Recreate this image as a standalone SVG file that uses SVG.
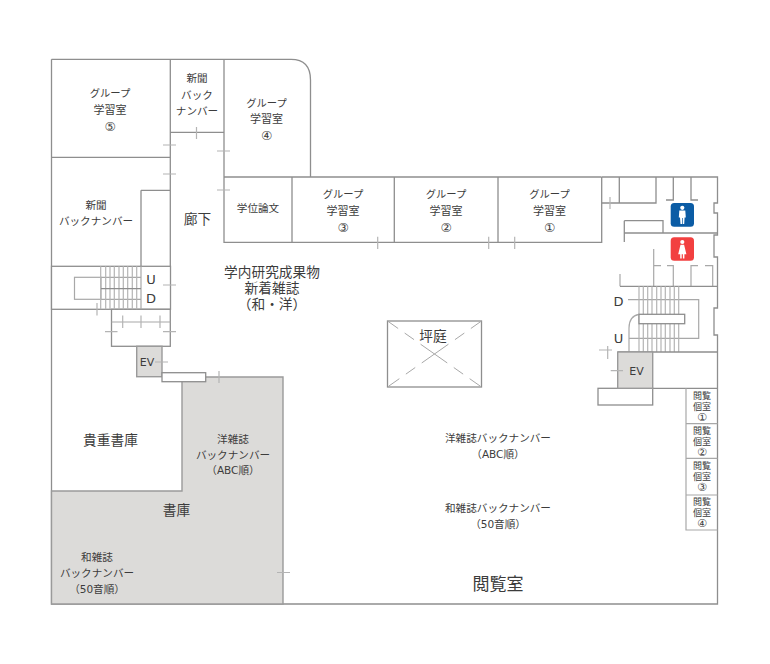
<svg xmlns="http://www.w3.org/2000/svg" width="770" height="664" viewBox="0 0 770 664">
<style>
text{font-family:"Noto Sans CJK JP","Noto Sans",sans-serif;fill:#3c3c3c;text-anchor:middle}
.s{font-size:10.6px}.t{font-size:11px}.m{font-size:13.7px}.v{font-size:9px}.l{font-size:17px}
.k{font-size:10.3px}
.n1{font-family:"DejaVu Sans",sans-serif;font-size:12.5px}
.n2{font-family:"DejaVu Sans",sans-serif;font-size:11px}
.a{font-family:"DejaVu Sans",sans-serif;font-size:10.5px}
.e{font-family:"DejaVu Sans",sans-serif;font-size:11px}.u{font-family:"DejaVu Sans",sans-serif;font-size:13px}
.w{fill:none;stroke:#8e8e8e;stroke-width:1.3}
.r{fill:#fff;stroke:#8e8e8e;stroke-width:1.3}
.g{fill:#dcdbd9;stroke:#9a9a9a;stroke-width:1.4}
.d{fill:none;stroke:#b4b4b4;stroke-width:1.2}
.n{fill:none;stroke:#a8a8a8;stroke-width:1.2}
.x{fill:none;stroke:#a8a8a8;stroke-width:1;stroke-dasharray:13 8 11.4 8 32.6 8 11.4 8 13}
</style>
<g id="connectors">
<path class="w" d="M51.5 59.3V604H717.5V388M51.5 59.3H291Q310.5 59.3 310.5 80V177M224 59.3V177"/>
<path class="w" d="M170.3 59.3V266M170.3 132.3H224M51.5 157.3H170.3M141 190.3H170.3M141 190.3V266"/>
<path class="w" d="M224 177H601.7M602 177H717.5V203H714V213H717.5V233M717.5 233V235H714V257H717.5V308H714V335H717.5V388"/>
</g>
<g id="storage"><path class="g" d="M182 377H283V604H51.5V491H182Z"/></g>
<g id="stairs-west">
<rect class="r" x="51.5" y="266.3" width="119" height="43"/>
<rect class="r" x="111.5" y="309.3" width="58.8" height="37"/>
<path class="n" d="M111.5 322H170.3M141 266.3V309.3"/>
<rect class="n" x="74.5" y="277.3" width="26.5" height="22"/>
<path class="n" d="M101 277.3H141M101 299.3H141"/>
<path class="d" d="M100.7 266.3V309.3M105.7 266.3V309.3M110 266.3V309.3M114.3 266.3V309.3M119 266.3V309.3M123.3 266.3V309.3M127.7 266.3V309.3M132.3 266.3V309.3M136.7 266.3V309.3"/>
<path class="w" d="M101 288.7H141"/>
</g>
<g id="west-ev"><rect class="g" x="136.7" y="346.3" width="25.3" height="30.4"/><text class="e" x="147" y="366">EV</text></g>
<rect id="west-passage" class="r" x="162" y="372.7" width="43.7" height="9"/>
<g id="rooms">
<path class="w" d="M224 177V242.3H601.7V177M292 177V242.3M394.3 177V242.3M498 177V242.3"/>
<path class="w" d="M601.7 203H656V177M619.3 177V203"/>
<path class="w" d="M673.3 177V200H666M691 177V200H698"/>
<path class="w" d="M624.3 242V233H717.5M624.3 220.7H663V233M624.3 220.7V233"/>
<path class="n" d="M653.7 249V286.3M653.7 265.7H661M667 265.7H673.3V286.3M691 286.3V265.7H698M705 265.7H712.7V286.3M620 274V286.3"/>
<path class="w" d="M620 286.3H717.5"/>
<path class="n" d="M628 299.7H698.7V338.3H628.7M639 314.3Q629 316 629 328V352"/>
<path class="d" d="M639 286.3V352M643.3 286.3V352M647.7 286.3V352M652 286.3V352M656.7 286.3V352M661 286.3V352M665.3 286.3V352M670 286.3V352M674.3 286.3V352M678.7 286.3V352"/>
<rect class="r" x="639" y="314.3" width="45.7" height="9.4"/>
<path class="w" d="M617.7 352H717.5M652.7 388.3H717.5"/>
<rect class="r" x="598" y="388.3" width="54.7" height="16.7"/>
<rect class="g" x="617.7" y="352" width="35" height="36.3"/>
<path class="n" d="M686 388.3V530H717.5M686 423.7H717.5M686 458.3H717.5M686 495H717.5"/>
</g>
<g id="courtyard">
<rect x="387.5" y="321" width="94" height="66" class="w"/>
<path class="x" d="M387.5 321L481.5 387M481.5 321L387.5 387"/>
<text class="m" x="433" y="341">坪庭</text>
</g>
<g id="ticks"><path class="d" d="M196.5 127V139M163 145H176M163 174H176M217 151H230M217 190H230M163 285H176M97 303V315.5M122.7 315.5V328M141 315.5V328M160 315.5V328M105 331.7H117.5M163 331.7H176M155 362H168M219 371V383M377.7 236.7V249M488.7 236.7V249M514.7 236.7V249M610 197V209M607.7 346V359M599 350H612M610.7 370.7H623M277 572.5H290"/></g>
<g id="icons">
<g id="male"><rect x="670.7" y="203" width="23.3" height="23.7" rx="3.5" fill="#0b5ca5"/><circle cx="682.3" cy="207.8" r="2.1" fill="#fff"/><path fill="#fff" d="M679.3 210.5H685.3L685.8 217.5H684.6L684.2 224H682.7V218H682V224H680.5L680 217.5H678.8Z"/></g>
<g id="female"><rect x="670.7" y="237.3" width="23.3" height="23.4" rx="3.5" fill="#f24040"/><circle cx="682.3" cy="242" r="2.1" fill="#fff"/><path fill="#fff" d="M680.5 244.7H684.1L686.4 254.2H684.4V258.5H682.9V254.2H681.7V258.5H680.2V254.2H678.2Z"/></g>
</g>
<g id="labels">
<text class="t" x="110" y="97"><tspan class="k" x="110">グループ</tspan><tspan x="110" dy="16.5">学習室</tspan><tspan class="n1" x="110" dy="17">⑤</tspan></text>
<text class="s" x="197" y="82">新聞<tspan x="197" dy="16.5">バック</tspan><tspan x="197" dy="16.5">ナンバー</tspan></text>
<text class="t" x="266.5" y="107"><tspan class="k" x="266.5">グループ</tspan><tspan x="266.5" dy="16">学習室</tspan><tspan class="n1" x="266.5" dy="17">④</tspan></text>
<text class="s" x="96" y="209">新聞<tspan x="96" dy="16">バックナンバー</tspan></text>
<text class="m" x="197.5" y="224">廊下</text>
<text class="s" x="258" y="212">学位論文</text>
<text class="t" x="343" y="198"><tspan class="k" x="343">グループ</tspan><tspan x="343" dy="16.5">学習室</tspan><tspan class="n1" x="343" dy="17">③</tspan></text>
<text class="t" x="446" y="198"><tspan class="k" x="446">グループ</tspan><tspan x="446" dy="16.5">学習室</tspan><tspan class="n1" x="446" dy="17">②</tspan></text>
<text class="t" x="549.5" y="198"><tspan class="k" x="549.5">グループ</tspan><tspan x="549.5" dy="16.5">学習室</tspan><tspan class="n1" x="549.5" dy="17">①</tspan></text>
<text class="u" x="151" y="284">U</text><text class="u" x="151" y="303">D</text>
<text class="m" x="272" y="277">学内研究成果物<tspan x="272" dy="16">新着雑誌</tspan><tspan x="272" dy="16">（和・洋）</tspan></text>
<text class="u" x="618.5" y="306">D</text><text class="u" x="618.5" y="343">U</text>
<text class="e" x="636.5" y="375">EV</text>
<text class="v" x="702" y="399">閲覧<tspan x="702" dy="11">個室</tspan><tspan class="n2" x="702" dy="11">①</tspan></text>
<text class="v" x="702" y="434">閲覧<tspan x="702" dy="11">個室</tspan><tspan class="n2" x="702" dy="11">②</tspan></text>
<text class="v" x="702" y="469">閲覧<tspan x="702" dy="11">個室</tspan><tspan class="n2" x="702" dy="11">③</tspan></text>
<text class="v" x="702" y="505">閲覧<tspan x="702" dy="11">個室</tspan><tspan class="n2" x="702" dy="10.5">④</tspan></text>
<text class="s" x="498" y="442">洋雑誌バックナンバー<tspan x="498" dy="16">（<tspan class="a">ABC</tspan>順）</tspan></text>
<text class="s" x="498" y="512">和雑誌バックナンバー<tspan x="498" dy="16">（<tspan class="a">50</tspan>音順）</tspan></text>
<text class="m" x="110.5" y="445">貴重書庫</text>
<text class="s" x="233" y="443">洋雑誌<tspan x="233" dy="15.5">バックナンバー</tspan><tspan x="233" dy="15.5">（<tspan class="a">ABC</tspan>順）</tspan></text>
<text class="m" x="176.5" y="515">書庫</text>
<text class="s" x="97" y="561">和雑誌<tspan x="97" dy="16">バックナンバー</tspan><tspan x="97" dy="16">（<tspan class="a">50</tspan>音順）</tspan></text>
<text class="l" x="498" y="590">閲覧室</text>
</g>
</svg>
